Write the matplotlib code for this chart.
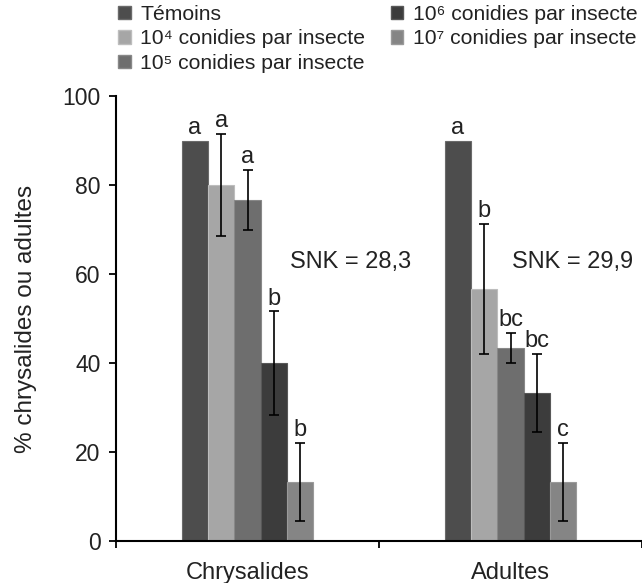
import matplotlib
matplotlib.use("Agg")
import matplotlib.pyplot as plt
from matplotlib.patches import Patch
import numpy as np

plt.rcParams['font.family'] = ['Liberation Sans', 'DejaVu Sans']

categories = ["Chrysalides", "Adultes"]
series = ["Témoins", "10⁴ conidies par insecte", "10⁵ conidies par insecte",
          "10⁶ conidies par insecte", "10⁷ conidies par insecte"]
values = [[90, 90], [80, 56.7], [76.7, 43.3], [40, 33.3], [13.3, 13.3]]
errors = [[0, 0], [11.5, 14.6], [6.7, 3.4], [11.6, 8.8], [8.8, 8.8]]
letters = [["a", "a"], ["a", "b"], ["a", "bc"], ["b", "bc"], ["b", "c"]]
snk_labels = ["SNK = 28,3", "SNK = 29,9"]
snk_offsets = [0.16, 0.004]
snk_y = 62.8
colors = ["#4d4d4d", "#a6a6a6", "#6e6e6e", "#3c3c3c", "#858585"]
edges = ["#6a6a6a", "#bdbdbd", "#888888", "#585858", "#9a9a9a"]

fig = plt.figure(figsize=(6.42, 5.83), dpi=100)
ax = fig.add_axes([116/642, 1-541/583, 1-116/642, (541-96)/583])

x = np.arange(len(categories))
w = 0.1
txtc = "#222222"
for i in range(len(series)):
    xs = x + (i - 2) * w
    ax.bar(xs, values[i], width=w, color=colors[i], edgecolor=edges[i], linewidth=0.8, zorder=2)
    for j in range(len(categories)):
        v, e = values[i][j], errors[i][j]
        if e > 0:
            ax.errorbar(xs[j], v, yerr=e, fmt='none', ecolor='black', elinewidth=1.2,
                        capsize=3.5, capthick=1.2, zorder=3)
        ax.text(xs[j], v + e + 0.4, letters[i][j], ha='center', va='bottom',
                fontsize=17, color=txtc)

for j in range(len(categories)):
    ax.text(x[j] + snk_offsets[j], snk_y, snk_labels[j], ha='left', va='center',
            fontsize=17, color=txtc)
    ax.text(x[j], -4.8, categories[j], ha='center', va='top', fontsize=17, color=txtc)

ax.set_xlim(-0.5, 1.5)
ax.set_ylim(0, 100)
ax.set_yticks([0, 20, 40, 60, 80, 100])
ax.set_xticks([-0.5, 0.5, 1.5])
ax.set_xticklabels([])
ax.tick_params(axis='both', direction='out', length=5, width=1.3, labelsize=16.5,
               labelcolor=txtc, pad=6)
for s in ['top', 'right']:
    ax.spines[s].set_visible(False)
for s in ['left', 'bottom']:
    ax.spines[s].set_linewidth(1.5)
ax.set_ylabel("% chrysalides ou adultes", fontsize=17.5, color=txtc, labelpad=18)

handles = [Patch(facecolor=colors[i], edgecolor=edges[i]) for i in range(len(series))]
fig.legend(handles, series, loc='upper left', bbox_to_anchor=(118/642, 1 - 5/583), ncol=2,
           frameon=False, fontsize=15.2, handlelength=0.6, handleheight=0.6,
           handletextpad=0.45, columnspacing=1.2, labelspacing=0.26, borderpad=0.0,
           borderaxespad=0.0, labelcolor=txtc)

fig.savefig("out.png", dpi=100)
